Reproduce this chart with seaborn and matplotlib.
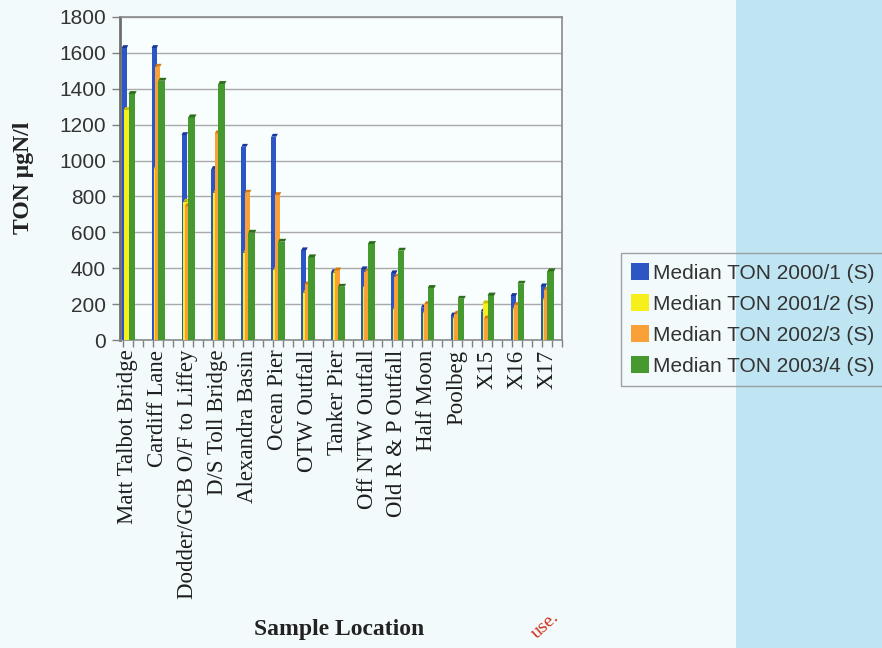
import numpy as np
import pandas as pd
import matplotlib
matplotlib.use("Agg")
import matplotlib.pyplot as plt
from matplotlib.patches import Patch, Rectangle
import seaborn as sns

# Sample locations along the estuary / bay
locations = ["Matt Talbot Bridge", "Cardiff Lane", "Dodder/GCB O/F to Liffey",
             "D/S Toll Bridge", "Alexandra Basin", "Ocean Pier", "OTW Outfall",
             "Tanker Pier", "Off NTW Outfall", "Old R & P Outfall", "Half Moon",
             "Poolbeg", "X15", "X16", "X17"]

# Median TON (µgN/l) per survey season
ton_2000_1 = [1627, 1627, 1142, 953, 1077, 1133, 500, 378, 394, 372, 180, 137, 158, 245, 299]
ton_2001_2 = [1282, 953, 771, 821, 487, 390, 264, 375, 294, 171, 150, 120, 204, 171, 223]
ton_2002_3 = [np.nan, 1523, 745, 1152, 821, 808, 310, 388, 381, 353, 200, 147, 120, 195, 280]
ton_2003_4 = [1371, 1445, 1241, 1427, 598, 548, 461, 297, 535, 498, 290, 230, 248, 314, 383]

series_names = ["Median TON 2000/1 (S)", "Median TON 2001/2 (S)",
                "Median TON 2002/3 (S)", "Median TON 2003/4 (S)"]
series_values = [ton_2000_1, ton_2001_2, ton_2002_3, ton_2003_4]
y_ticks = list(range(0, 1801, 200))

# bar colours, darker shade for the top face
colors = ["#2c56c4", "#f7ef1c", "#f9a136", "#46992f"]
cap_colors = ["#17379a", "#c9bf00", "#d97a10", "#2c6e1a"]
# left offset and width of each series inside a group (category units)
offsets = [0.0, 0.066, 0.115, 0.23]
widths = [0.17, 0.17, 0.17, 0.22]

sns.set_style("white")
plt.rcParams["font.family"] = ["Liberation Sans", "DejaVu Sans"]

fig = plt.figure(figsize=(8.82, 6.48), dpi=100, facecolor="#f3fafc")
# pale blue page band on the right
fig.patches.append(Rectangle((736 / 882, 0), 1 - 736 / 882, 1, transform=fig.transFigure,
                             facecolor="#bfe5f2", edgecolor="none", zorder=-5))

ax = fig.add_axes([120 / 882, 1 - 340 / 648, 442 / 882, 323 / 648])
ax.set_facecolor("#f8fdfe")

pos = np.arange(len(locations))
xlim = (-0.056, 14.503)
ylim = (0, 1800)
cap_h = 16.0   # top-face depth in data units
cap_dx = 0.05

for k, (vals, c, cc, off, w) in enumerate(zip(series_values, colors, cap_colors, offsets, widths)):
    df = pd.DataFrame({"x": pos + off + w / 2, "y": vals}).dropna()
    sns.barplot(data=df, x="x", y="y", native_scale=True, width=w, color=c,
                saturation=1, errorbar=None, linewidth=0, ax=ax, zorder=3 + k)
    for xc, v in zip(df["x"], df["y"]):
        x0, x1 = xc - w / 2, xc + w / 2
        ax.fill([x0, x1, x1 + cap_dx, x0 + cap_dx], [v, v, v + cap_h, v + cap_h],
                color=cc, lw=0, zorder=3 + k)

ax.set_xlim(*xlim)
ax.set_ylim(*ylim)
ax.set_yticks(y_ticks)
ax.set_yticklabels([str(t) for t in y_ticks])
ax.yaxis.grid(True, color="#a9a9a9", lw=1.0, zorder=0)
ax.set_axisbelow(True)

ax.set_xticks(pos + 0.2)
ax.set_xticklabels(locations, rotation=90, family=["Liberation Serif"], fontsize=16.5,
                   color="#1e1e1e", va="top", ha="center")
ax.set_xticks([i + k / 3 + 0.05 for i in pos for k in range(3)], minor=True)
ax.tick_params(axis="x", which="major", length=0, pad=7)
ax.tick_params(axis="x", which="minor", length=5, color="#808080", width=1, bottom=True)
ax.tick_params(axis="y", length=6, color="#808080", width=1, labelsize=15,
               labelcolor="#333333", pad=4, left=True)

for side in ["top", "right", "bottom"]:
    ax.spines[side].set_color("#8a8a8a")
    ax.spines[side].set_linewidth(1.2)
ax.spines["left"].set_color("#6e6e6e")
ax.spines["left"].set_linewidth(2.0)

ax.set_xlabel("")
ax.set_ylabel("")
fig.text(24 / 882, 1 - 178 / 648, "TON µgN/l", rotation=90, ha="center", va="center",
         family=["Liberation Serif"], fontweight="bold", fontsize=17, color="#222222")
fig.text(339 / 882, 1 - 630 / 648, "Sample Location", ha="center", va="center",
         family=["Liberation Serif"], fontweight="bold", fontsize=17, color="#222222")
fig.text(545 / 882, 1 - 625 / 648, "use.", rotation=42, ha="center", va="center",
         family=["Liberation Serif"], fontsize=14, color="#d2321e")

handles = [Patch(facecolor=c, edgecolor="none") for c in colors]
leg = fig.legend(handles, series_names, loc="upper left",
                 bbox_to_anchor=(621 / 882, 1 - 253 / 648), fontsize=15,
                 frameon=True, fancybox=False, facecolor="none", edgecolor="#8c8c8c",
                 handlelength=0.85, handleheight=0.85, handletextpad=0.2,
                 labelspacing=0.55, borderpad=0.5, borderaxespad=0)
leg.get_frame().set_linewidth(1.0)
for t in leg.get_texts():
    t.set_color("#333333")

fig.savefig("out.png", dpi=100, facecolor=fig.get_facecolor())
